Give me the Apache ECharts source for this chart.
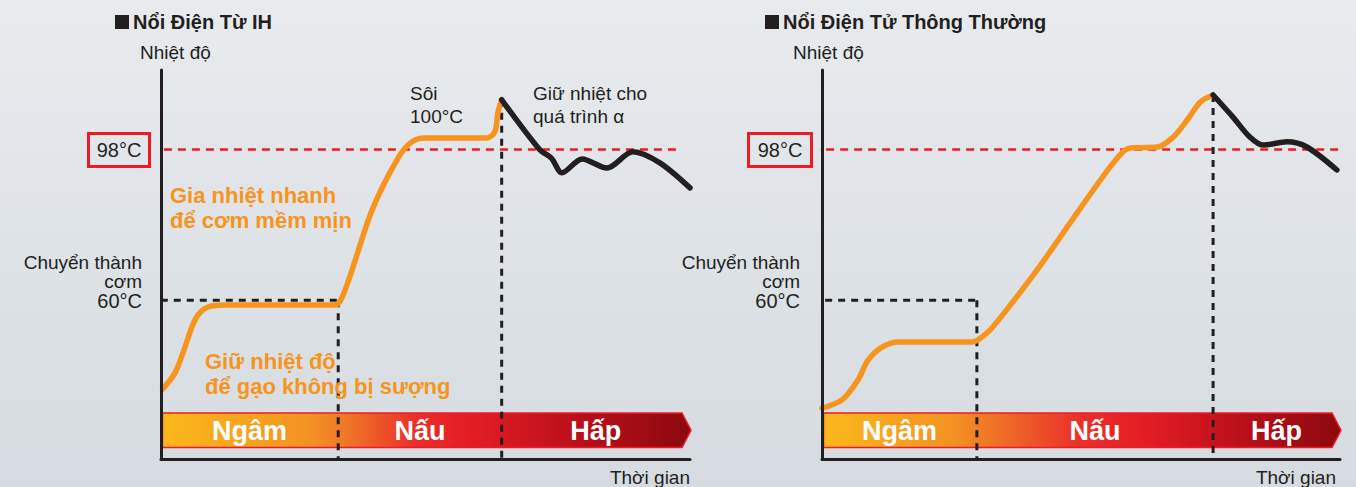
<!DOCTYPE html>
<html><head><meta charset="utf-8">
<script src="https://cdn.jsdelivr.net/npm/echarts@6/dist/echarts.min.js"></script>
<style>html,body{margin:0;padding:0;background:#e0e4e8;}#c{width:1356px;height:487px;}</style>
</head><body><div id="c"></div>
<script>
// ---------- data ----------
const panelTitles = ['Nổi Điện Từ IH', 'Nổi Điện Tử Thông Thường'];
const phaseNames = ['Ngâm', 'Nấu', 'Hấp'];
const ihPhaseBounds = [0, 33.5, 64.4, 100];
const stdPhaseBounds = [0, 29.9, 75.5, 100];
const refTemps = [98, 60];
const ihHeating = [[0.3,37.6],[2.65,41.7],[4.54,48.2],[5.86,53.3],[6.99,56.3],[8.88,58.3],[12.1,58.8],[32.9,58.8],[34.8,62.6],[39.9,82.7],[44.8,95.8],[47.4,99.9],[49.9,100.9],[61.6,100.9],[63.1,102.4],[63.7,107.4],[64.4,110.5]];
const ihKeeping = [[64.4,110.5],[71.6,97.9],[73.8,95.8],[75.8,92.1],[79.6,95.6],[84.3,93.3],[89.2,97.4],[94.3,94.6],[100,88.3]];
const stdHeating = [[0,32.8],[3.86,34.9],[6.95,39.9],[8.88,44.9],[11.6,48.2],[14.7,49.5],[29.0,49.5],[30.1,50.0],[32.8,53.0],[41.5,67.6],[47.9,79.5],[54.2,91.1],[58.1,97.4],[60.0,98.4],[64.7,98.6],[67.8,101.1],[70.5,105.4],[73.0,109.9],[75.5,111.7]];
const stdKeeping = [[75.5,111.7],[79.3,106.2],[82.6,101.1],[85.1,99.1],[89.8,99.9],[93.6,98.6],[99.4,92.8]];
const ihPeak = 110.5;
const stdPeak = 111.7;
const axisMin = 20;

// ---------- style ----------
const FONT = 'Liberation Sans, Arial, sans-serif';
const INK = '#231f20';
const ORANGE = '#f7941d';
const RED = '#ed1c24';

const chart = echarts.init(document.getElementById('c'), null, {renderer: 'svg'});

function bandSeries(gridIndex, bounds, stops) {
  return {
    type: 'custom', xAxisIndex: gridIndex, yAxisIndex: gridIndex, z: 1, clip: false,
    data: [[0]],
    renderItem: function (params, api) {
      const tl = api.coord([bounds[0], 31.6]);
      const br = api.coord([bounds[3], 22.9]);
      const x0 = tl[0] + 1.5, y0 = tl[1], y1 = br[1], xe = br[0];
      const ym = (y0 + y1) / 2;
      const children = [{
        type: 'polygon',
        shape: {points: [[x0, y0], [xe - 8, y0], [xe + 1, ym], [xe - 8, y1], [x0, y1]]},
        style: {
          fill: new echarts.graphic.LinearGradient(0, 0, 1, 0, stops),
          stroke: RED, lineWidth: 1.5
        }
      }];
      for (let i = 0; i < 3; i++) {
        const cx = api.coord([(bounds[i] + bounds[i + 1]) / 2, 0])[0];
        children.push({
          type: 'text',
          style: {text: phaseNames[i], x: cx, y: ym + 1, align: 'center', verticalAlign: 'middle',
            fill: '#ffffff', fontSize: 27, fontWeight: 'bold', fontFamily: FONT}
        });
      }
      return {type: 'group', children: children};
    }
  };
}

function lineS(gridIndex, data, color, width, dash, z) {
  return {
    type: 'line', xAxisIndex: gridIndex, yAxisIndex: gridIndex, data: data,
    symbol: 'none', clip: false, z: z, silent: true, animation: false,
    lineStyle: {color: color, width: width, type: dash || 'solid', cap: 'butt'}
  };
}
function curveS(gridIndex, data, color) {
  return {
    type: 'line', xAxisIndex: gridIndex, yAxisIndex: gridIndex, data: data,
    symbol: 'none', smooth: 0.3, clip: false, z: 5, animation: false,
    lineStyle: {color: color, width: 5.5, cap: 'round', join: 'round'}
  };
}

const axisStyle = {show: true, lineStyle: {color: INK, width: 3}};
function xA(i) {
  return {type: 'value', gridIndex: i, min: 0, max: 100, axisLine: axisStyle, axisTick: {show: false},
    axisLabel: {show: false}, splitLine: {show: false}, z: 10};
}
function yA(i) {
  return {type: 'value', gridIndex: i, min: axisMin, max: 118, axisLine: axisStyle, axisTick: {show: false},
    axisLabel: {show: false}, splitLine: {show: false}, z: 10};
}

const ihStops = [
  {offset: 0, color: '#fbb81b'}, {offset: 0.28, color: '#f39223'}, {offset: 0.34, color: '#f07a26'},
  {offset: 0.48, color: '#ea2f2a'}, {offset: 0.58, color: '#e41d25'}, {offset: 0.8, color: '#b70f1a'},
  {offset: 1, color: '#8c080e'}];
const stdStops = [
  {offset: 0, color: '#fbb81b'}, {offset: 0.25, color: '#f39223'}, {offset: 0.31, color: '#f07a26'},
  {offset: 0.5, color: '#ea2f2a'}, {offset: 0.62, color: '#e41d25'}, {offset: 0.82, color: '#b70f1a'},
  {offset: 1, color: '#8c080e'}];

function txt(x, y, text, opt) {
  opt = opt || {};
  return {type: 'text', x: x, y: y, silent: true, z: 20,
    style: {text: text, align: opt.align || 'left', verticalAlign: 'middle', fill: opt.fill || INK,
      fontSize: opt.size || 19, fontWeight: opt.bold ? 'bold' : 'normal', fontFamily: FONT}};
}
function box(x, y, w, h) {
  return {type: 'rect', shape: {x: x, y: y, width: w, height: h}, z: 20, silent: true,
    style: {fill: 'none', stroke: RED, lineWidth: 3}};
}
function square(x, y) {
  return {type: 'rect', shape: {x: x, y: y, width: 14, height: 14}, z: 20, silent: true,
    style: {fill: INK}};
}

const graphics = [
  // left panel
  square(115, 15), txt(133, 22, panelTitles[0], {bold: true, size: 20}),
  txt(140, 52, 'Nhiệt độ'),
  box(88.5, 133.5, 61, 33), txt(119, 150, '98°C', {align: 'center', size: 20}),
  txt(142, 262, 'Chuyển thành', {align: 'right'}),
  txt(142, 281, 'cơm', {align: 'right'}),
  txt(142, 301, '60°C', {align: 'right', size: 20}),
  txt(410, 93, 'Sôi'), txt(410, 116, '100°C'),
  txt(533, 93, 'Giữ nhiệt cho'), txt(533, 116, 'quá trình α'),
  txt(170, 195, 'Gia nhiệt nhanh', {bold: true, size: 22, fill: ORANGE}),
  txt(170, 220, 'để cơm mềm mịn', {bold: true, size: 22, fill: ORANGE}),
  txt(205, 361, 'Giữ nhiệt độ', {bold: true, size: 22, fill: ORANGE}),
  txt(205, 386, 'để gạo không bị sượng', {bold: true, size: 22, fill: ORANGE}),
  txt(690, 477, 'Thời gian', {align: 'right'}),
  // right panel
  square(765, 15), txt(783, 22, panelTitles[1], {bold: true, size: 20}),
  txt(793, 52, 'Nhiệt độ'),
  box(748.5, 133.5, 63, 33), txt(780, 150, '98°C', {align: 'center', size: 20}),
  txt(800, 262, 'Chuyển thành', {align: 'right'}),
  txt(800, 281, 'cơm', {align: 'right'}),
  txt(800, 301, '60°C', {align: 'right', size: 20}),
  txt(1336, 477, 'Thời gian', {align: 'right'})
];

const DASH_BLACK = [7, 6];
const DASH_RED = [8, 6];

const option = {
  animation: false,
  backgroundColor: {type: 'linear', x: 0, y: 0, x2: 0, y2: 1,
    colorStops: [{offset: 0, color: '#e8ebee'}, {offset: 1, color: '#d5dbe0'}]},
  grid: [
    {left: 161, top: 70, width: 529, height: 389},
    {left: 822, top: 70, width: 518, height: 389}
  ],
  xAxis: [xA(0), xA(1)],
  yAxis: [yA(0), yA(1)],
  graphic: graphics,
  series: [
    bandSeries(0, ihPhaseBounds, ihStops),
    lineS(0, [[-2.1, refTemps[0]], [97.7, refTemps[0]]], RED, 2.5, DASH_RED, 3),
    lineS(0, [[-2.5, refTemps[1]], [ihPhaseBounds[1], refTemps[1]]], INK, 3, DASH_BLACK, 3),
    lineS(0, [[ihPhaseBounds[1], refTemps[1]], [ihPhaseBounds[1], axisMin]], INK, 3, DASH_BLACK, 3),
    lineS(0, [[ihPhaseBounds[2], ihPeak], [ihPhaseBounds[2], axisMin]], INK, 3, DASH_BLACK, 3),
    curveS(0, ihHeating, ORANGE),
    curveS(0, ihKeeping, INK),

    bandSeries(1, stdPhaseBounds, stdStops),
    lineS(1, [[-1.9, refTemps[0]], [100, refTemps[0]]], RED, 2.5, DASH_RED, 3),
    lineS(1, [[-1.9, refTemps[1]], [stdPhaseBounds[1], refTemps[1]]], INK, 3, DASH_BLACK, 3),
    lineS(1, [[stdPhaseBounds[1], refTemps[1]], [stdPhaseBounds[1], axisMin]], INK, 3, DASH_BLACK, 3),
    lineS(1, [[stdPhaseBounds[2], stdPeak], [stdPhaseBounds[2], axisMin]], INK, 3, DASH_BLACK, 3),
    curveS(1, stdHeating, ORANGE),
    curveS(1, stdKeeping, INK)
  ]
};
chart.setOption(option);
</script></body></html>
